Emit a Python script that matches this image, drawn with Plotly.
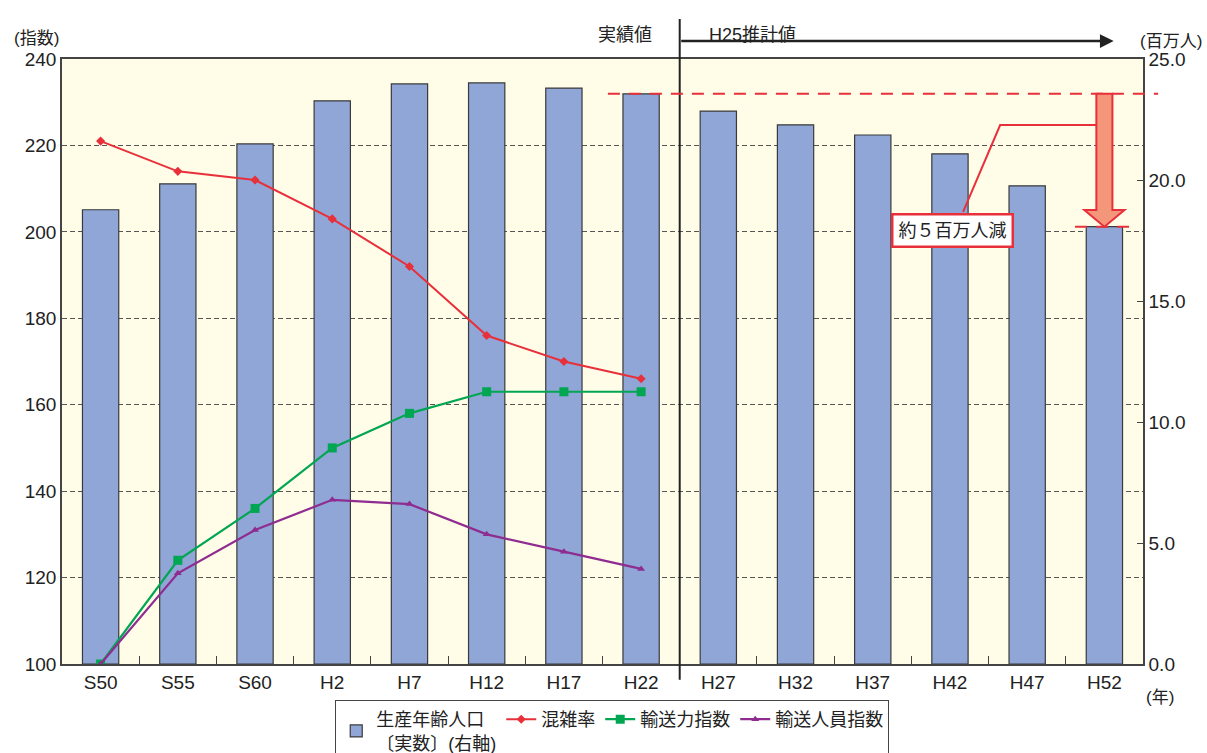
import plotly.graph_objects as go

# 年次（S=昭和, H=平成）
years = ["S50", "S55", "S60", "H2", "H7", "H12", "H17", "H22",
         "H27", "H32", "H37", "H42", "H47", "H52"]

# 生産年齢人口（百万人）: H22 までは実績、H27 以降は H25 推計
working_pop = [18.77, 19.84, 21.49, 23.27, 23.97, 24.01, 23.80, 23.56,
               22.85, 22.28, 21.86, 21.08, 19.76, 18.07]

# 指数（S50 = 100）
congestion = [221, 214, 212, 203, 192, 176, 170, 166]
capacity = [100, 124, 136, 150, 158, 163, 163, 163]
passengers = [100, 121, 131, 138, 137, 130, 126, 122]

xs = list(range(len(years)))
xs_hist = xs[:len(congestion)]

FONT = "Liberation Sans, Arial, Noto Sans CJK JP, sans-serif"
RED = "#E8303A"
TXT = "#222"

fig = go.Figure()

fig.add_trace(go.Bar(
    x=xs, y=working_pop, width=0.47, yaxis="y",
    name="生産年齢人口<br>〔実数〕(右軸)",
    marker=dict(color="#8FA6D6", line=dict(color="#3a3a3a", width=1.2)),
))
fig.add_trace(go.Scatter(
    x=xs_hist, y=congestion, yaxis="y2", mode="lines+markers", name="混雑率",
    line=dict(color=RED, width=2),
    marker=dict(symbol="diamond", size=7, color=RED),
))
fig.add_trace(go.Scatter(
    x=xs_hist, y=capacity, yaxis="y2", mode="lines+markers", name="輸送力指数",
    line=dict(color="#00A651", width=2.2),
    marker=dict(symbol="square", size=9, color="#00A651"),
))
fig.add_trace(go.Scatter(
    x=xs_hist, y=passengers, yaxis="y2", mode="lines+markers", name="輸送人員指数",
    line=dict(color="#8E2C90", width=2.2),
    marker=dict(symbol="triangle-up", size=7, color="#8E2C90"),
))

n = len(years)
def to_paper(xv):
    return (xv + 0.5) / n

top_val = working_pop[7]      # H22 実績
end_val = working_pop[-1]     # H52 推計
xe = xs[-1]
shapes = []

# 実績値 / 推計値 の境界線
shapes.append(dict(type="line", xref="x", yref="paper", x0=7.5, x1=7.5,
                   y0=-0.026, y1=1.066, line=dict(color=TXT, width=2),
                   layer="above"))

# 減少幅を示す赤破線
shapes.append(dict(type="line", xref="paper", yref="y",
                   x0=to_paper(6.57), x1=1.014, y0=top_val, y1=top_val,
                   line=dict(color=RED, width=2, dash="12px,9px"), layer="above"))
shapes.append(dict(type="line", xref="paper", yref="y",
                   x0=to_paper(12.62), x1=to_paper(13.4), y0=end_val, y1=end_val,
                   line=dict(color=RED, width=2, dash="12px,9px"), layer="above"))

# 吹き出しの引き出し線
shapes.append(dict(type="path", xref="x", yref="y",
                   path=f"M 11.17,18.68 L 11.65,22.27 L {xe - 0.104},22.27",
                   line=dict(color=RED, width=2), layer="above"))

# 太い下向き矢印（H22 実績値 → H52 推計値）
sw, hw, hl = 0.104, 0.26, 0.69
arrow = (f"M {xe - sw},{top_val} L {xe + sw},{top_val} "
         f"L {xe + sw},{end_val + hl} L {xe + hw},{end_val + hl} "
         f"L {xe},{end_val} L {xe - hw},{end_val + hl} "
         f"L {xe - sw},{end_val + hl} Z")
shapes.append(dict(type="path", xref="x", yref="y", path=arrow,
                   fillcolor="#F4967A", line=dict(color=RED, width=2),
                   layer="above"))

annotations = [
    dict(text="約５百万人減", xref="x", yref="y", x=11.03, y=17.93,
         showarrow=False, font=dict(size=18, color=TXT, family=FONT),
         bgcolor="white", bordercolor=RED, borderwidth=2.5, borderpad=5),
    dict(text="実績値", xref="x", yref="paper", x=6.79, y=1.059,
         showarrow=False, font=dict(size=18, color=TXT, family=FONT)),
    dict(text="H25推計値", xref="x", yref="paper", x=8.44, y=1.059,
         showarrow=False, font=dict(size=18, color=TXT, family=FONT)),
    dict(text="", xref="x", yref="paper", x=13.12, y=1.0297,
         ax=7.5, ay=0, axref="x", ayref="pixel",
         showarrow=True, arrowhead=2, arrowsize=1.1, arrowwidth=2.5,
         arrowcolor=TXT),
    dict(text="(指数)", xref="paper", yref="paper", x=-0.024, y=1.053,
         xanchor="center", showarrow=False,
         font=dict(size=17, color=TXT, family=FONT)),
    dict(text="(百万人)", xref="paper", yref="paper", x=1.026, y=1.048,
         xanchor="center", showarrow=False,
         font=dict(size=17, color=TXT, family=FONT)),
    dict(text="(年)", xref="paper", yref="paper", x=1.0157, y=-0.036,
         xanchor="center", yanchor="top", showarrow=False,
         font=dict(size=17, color=TXT, family=FONT)),
]

fig.update_layout(
    width=1207, height=753,
    margin=dict(l=62, r=64, t=59, b=89, autoexpand=False),
    paper_bgcolor="white", plot_bgcolor="#FFFCE8",
    font=dict(family=FONT, size=19, color=TXT),
    xaxis=dict(
        range=[-0.5, n - 0.5], tickmode="array", tickvals=xs, ticktext=years,
        ticks="", showgrid=False, zeroline=False,
        showline=True, mirror=True, linecolor="#444", linewidth=1.5,
        minor=dict(tickmode="array", tickvals=[i + 0.5 for i in xs[:-1]],
                   ticks="inside", ticklen=8, tickcolor="#444", tickwidth=1,
                   showgrid=False),
        tickfont=dict(size=19, color=TXT),
    ),
    yaxis=dict(
        side="right", range=[0, 25], tickmode="linear", tick0=0, dtick=5,
        tickformat=".1f", showgrid=False, zeroline=False,
        showline=True, mirror=True, linecolor="#444", linewidth=1.5,
        ticks="inside", ticklen=6, tickcolor="#444",
        tickfont=dict(size=19, color=TXT),
    ),
    yaxis2=dict(
        overlaying="y", side="left", range=[100, 240], tickmode="linear",
        tick0=100, dtick=20, showgrid=True, gridcolor="#555", gridwidth=1,
        griddash="5px,3px", zeroline=False, showline=True,
        linecolor="#444", linewidth=1.5, ticks="",
        tickfont=dict(size=19, color=TXT),
    ),
    legend=dict(
        orientation="h", x=0.509, xanchor="center", y=-0.0595, yanchor="top",
        bgcolor="white", bordercolor="#444", borderwidth=1,
        font=dict(size=18, color=TXT, family=FONT), traceorder="normal",
    ),
    shapes=shapes,
    annotations=annotations,
)

fig.write_html("out.html")
